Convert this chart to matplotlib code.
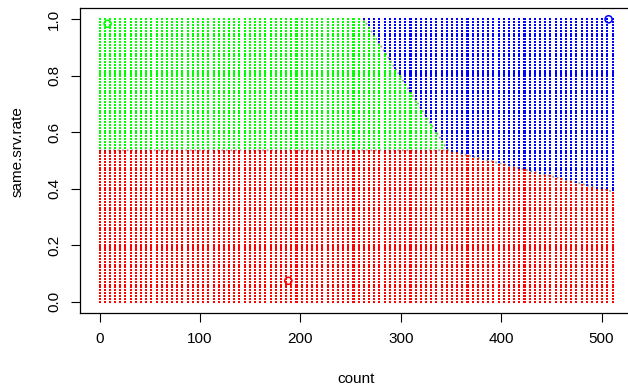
import numpy as np
import matplotlib
matplotlib.use("Agg")
import matplotlib.pyplot as plt

plt.rcParams['font.family'] = ['Liberation Sans', 'DejaVu Sans']

# grid of predictions (100 x 100 over the data range)
grid_x = np.linspace(0, 511, 100)
grid_y = np.linspace(0, 1, 100)

# decision boundaries
# red / (green, blue): below this line -> red
rb_x = [0, 347, 511]
rb_y = [0.536, 0.536, 0.39]
# green / blue: left of this line -> green
gb_x = [263, 347]
gb_y = [1.0, 0.536]

# labelled points
pt_x = [8, 507, 188]
pt_y = [0.984, 1.0, 0.074]
pt_col = ['#00ff00', '#0000ff', '#ff0000']

gx, gy = np.meshgrid(grid_x, grid_y)
gx = gx.ravel()
gy = gy.ravel()
below = gy < np.interp(gx, rb_x, rb_y)
# x on green/blue boundary for given y
gb_at = np.interp(gy, gb_y[::-1], gb_x[::-1])
cls = np.where(below, 2, np.where(gx < gb_at, 0, 1))
cols = np.array(pt_col)[cls]

fig = plt.figure(figsize=(6.28, 3.9), dpi=100)
ax = fig.add_axes([80 / 628, 77 / 390, 558 / 628, 305 / 390])

ax.scatter(gx, gy, s=2.1, marker='s', c=cols, linewidths=0, antialiased=False)

# boundary lines (faint grey)
ax.plot(rb_x, rb_y, color='#333333', lw=1.3, ls=(0, (1, 1.5)), alpha=0.45)
ax.plot(gb_x, gb_y, color='#333333', lw=1.3, ls=(0, (1, 1.5)), alpha=0.45)

ax.scatter(pt_x, pt_y, s=26, facecolors='none', edgecolors=pt_col, linewidths=1.1)

ax.set_xlim(-19.5, 536.3)
ax.set_ylim(-0.04, 1.04)
ax.set_xticks([0, 100, 200, 300, 400, 500])
ax.set_yticks([0.0, 0.2, 0.4, 0.6, 0.8, 1.0])
ax.set_yticklabels(['0.0', '0.2', '0.4', '0.6', '0.8', '1.0'], rotation=90, va='center')
ax.tick_params(length=6.5, width=0.8, labelsize=11, pad=7)

for s in ax.spines.values():
    s.set_linewidth(0.9)

ax.set_xlabel('count', fontsize=11)
ax.set_ylabel('same.srv.rate', fontsize=11)
ax.xaxis.set_label_coords(0.495, -0.195)
ax.yaxis.set_label_coords(-0.1, 0.53)

fig.savefig('out.png', dpi=100)
